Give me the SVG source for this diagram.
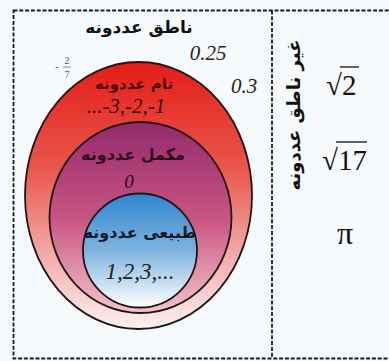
<svg xmlns="http://www.w3.org/2000/svg" width="389" height="361" viewBox="0 0 389 361">
<defs>
<linearGradient id="gRed" x1="0" y1="0" x2="0" y2="1">
<stop offset="0" stop-color="#e31d17"/>
<stop offset="0.4" stop-color="#e9574c"/>
<stop offset="0.72" stop-color="#f3aaa9"/>
<stop offset="1" stop-color="#fdf2f0"/>
</linearGradient>
<linearGradient id="gPurple" x1="0" y1="0" x2="0" y2="1">
<stop offset="0" stop-color="#942a6c"/>
<stop offset="0.5" stop-color="#c75582"/>
<stop offset="1" stop-color="#f3c3cb"/>
</linearGradient>
<linearGradient id="gBlue" x1="0" y1="0" x2="0" y2="1">
<stop offset="0" stop-color="#2f86cf"/>
<stop offset="0.5" stop-color="#7fb3de"/>
<stop offset="1" stop-color="#ffffff"/>
</linearGradient>
</defs>
<style>
.border{fill:none;stroke:#1a1a1a;stroke-width:1.8;stroke-dasharray:4 1.8}
.set{stroke:#221515;stroke-width:1.8}
.ps{font-family:"DejaVu Sans",sans-serif;font-weight:bold;fill:#111}
.num{font-family:"Liberation Serif",serif;font-style:italic;fill:#222}
.math{font-family:"Liberation Serif",serif;fill:#111}
</style>
<rect width="389" height="361" fill="#f7fafd"/>
<g id="frame">
<rect class="border" x="13.5" y="10.5" width="390" height="348"/>
<line class="border" x1="272" y1="10.5" x2="272" y2="358.5"/>
</g>
<g id="rational">
<ellipse class="set" cx="138.5" cy="195.5" rx="113.5" ry="133.5" fill="url(#gRed)"/>
<text class="ps" x="139" y="33" font-size="17" text-anchor="middle" direction="rtl">ناطق عددونه</text>
<text class="num" x="208" y="60" font-size="21" text-anchor="middle">0.25</text>
<text class="num" x="244" y="93" font-size="21" text-anchor="middle">0.3</text>
<g id="frac">
<text class="math" x="57" y="70" font-size="11" text-anchor="middle" style="fill:#555">-</text>
<text class="math" x="67" y="64" font-size="10" text-anchor="middle" style="fill:#555">2</text>
<line x1="63" y1="67" x2="71" y2="67" stroke="#555" stroke-width="0.7"/>
<text class="math" x="67" y="78" font-size="10" text-anchor="middle" style="fill:#555">7</text>
</g>
</g>
<g id="integers">
<text class="ps" x="134" y="89" font-size="15" text-anchor="middle" direction="rtl" style="fill:#4a0808">تام عددونه</text>
<text class="num" x="126" y="113" font-size="21" text-anchor="middle" style="fill:#3a0a0a">...-3,-2,-1</text>
</g>
<g id="whole">
<ellipse class="set" cx="140.5" cy="217.5" rx="91" ry="95.5" fill="url(#gPurple)"/>
<text class="ps" x="133" y="160" font-size="16" text-anchor="middle" direction="rtl" style="fill:#2a0a1a">مکمل عددونه</text>
<text class="num" x="129" y="188" font-size="19" text-anchor="middle" style="fill:#2a0a1a">0</text>
</g>
<g id="natural">
<circle class="set" cx="140" cy="250.5" r="57" fill="url(#gBlue)"/>
<text class="ps" x="140" y="238" font-size="16" text-anchor="middle" direction="rtl" style="fill:#0a1a2a">طبیعی عددونه</text>
<text class="num" x="140" y="279" font-size="23" text-anchor="middle">1,2,3,...</text>
</g>
<g id="irrational">
<text class="ps" transform="translate(300,115) rotate(-90)" x="0" y="0" font-size="18" text-anchor="middle" direction="rtl">غیر ناطق عددونه</text>
<g id="sqrt2">
<text class="math" x="326" y="95" font-size="29">√2</text>
<line x1="340" y1="67" x2="359" y2="67" stroke="#111" stroke-width="1.3"/>
</g>
<g id="sqrt17">
<text class="math" x="322" y="170" font-size="29">√17</text>
<line x1="336" y1="142" x2="367" y2="142" stroke="#111" stroke-width="1.3"/>
</g>
<text class="math" x="345" y="244" font-size="32" text-anchor="middle">π</text>
</g>
</svg>
